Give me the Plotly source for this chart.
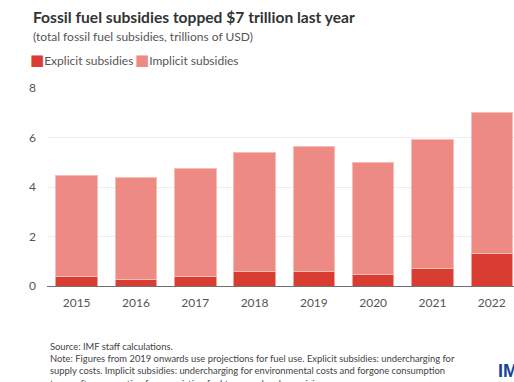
import plotly.graph_objects as go

# Fossil fuel subsidies, trillions of USD
years = ["2015", "2016", "2017", "2018", "2019", "2020", "2021", "2022"]
total_subsidies = [4.48, 4.38, 4.74, 5.41, 5.62, 5.00, 5.90, 7.02]
explicit_subsidies = [0.39, 0.28, 0.39, 0.60, 0.58, 0.48, 0.69, 1.32]
implicit_subsidies = [round(t - e, 2) for t, e in zip(total_subsidies, explicit_subsidies)]

y_ticks = [0, 2, 4, 6, 8]

EXPLICIT_COLOR = "#d93d31"
IMPLICIT_COLOR = "#ec8a83"
FONT = "Lato"

W, H = 514, 382
L, R, T, B = 47, 0, 88, 96
PW, PH = W - L - R, H - T - B


def px_x(px):
    return (px - L) / PW


def px_y(py):
    return (H - B - py) / PH


fig = go.Figure()
fig.add_trace(go.Bar(
    x=years, y=explicit_subsidies, name="Explicit subsidies",
    marker=dict(color=EXPLICIT_COLOR, line=dict(color="#ef9f98", width=1)),
    width=0.7,
))
fig.add_trace(go.Bar(
    x=years, y=implicit_subsidies, name="Implicit subsidies",
    marker=dict(color=IMPLICIT_COLOR, line=dict(color="#f6bcb6", width=1)),
    width=0.7,
))


def swatch(color):
    return (f"<span style='color:{color};font-size:15px;"
            f"font-family:DejaVu Sans'>■</span>")


annotations = [
    dict(text="<b>Fossil fuel subsidies topped $7 trillion last year</b>",
         x=px_x(31), y=px_y(17), font=dict(size=15.6, color="#333333")),
    dict(text="(total fossil fuel subsidies, trillions of USD)",
         x=px_x(31), y=px_y(36), font=dict(size=12, color="#555555")),
    dict(text=swatch(EXPLICIT_COLOR) + "Explicit subsidies",
         x=px_x(28), y=px_y(60), font=dict(size=12, color="#555555")),
    dict(text=swatch(IMPLICIT_COLOR) + "Implicit subsidies",
         x=px_x(133), y=px_y(60), font=dict(size=12, color="#555555")),
    dict(text="Source: IMF staff calculations.<br>"
              "Note: Figures from 2019 onwards use projections for fuel use. "
              "Explicit subsidies: undercharging for<br>"
              "supply costs. Implicit subsidies: undercharging for environmental "
              "costs and forgone consumption<br>"
              "taxes, after accounting for preexisting fuel taxes and carbon pricing.",
         x=px_x(48), y=px_y(339), yanchor="top", align="left",
         font=dict(size=9.4, color="#444444")),
    dict(text="<b>IMF</b>", x=px_x(496), y=px_y(371),
         font=dict(size=18, color="#12449a", family="Liberation Sans")),
]
for a in annotations:
    a.setdefault("yanchor", "middle")
    a.update(xref="paper", yref="paper", xanchor="left", showarrow=False)

fig.update_layout(
    width=W, height=H,
    margin=dict(l=L, r=R, t=T, b=B, pad=0),
    barmode="stack",
    showlegend=False,
    plot_bgcolor="white",
    paper_bgcolor="white",
    font=dict(family=FONT, color="#555555", size=12),
    annotations=annotations,
    xaxis=dict(
        type="category", range=[-0.5, 7.375],
        showline=True, linecolor="#6f6f6f", linewidth=1,
        showgrid=False, ticks="", ticklabelstandoff=6,
        tickfont=dict(size=12, color="#555555"),
    ),
    yaxis=dict(
        range=[0, 8], tickvals=y_ticks, showgrid=True, gridcolor="#ededed",
        gridwidth=1, zeroline=False, ticks="", ticklabelstandoff=10,
        tickfont=dict(size=12, color="#555555"),
    ),
)

fig.write_html("out.html")
